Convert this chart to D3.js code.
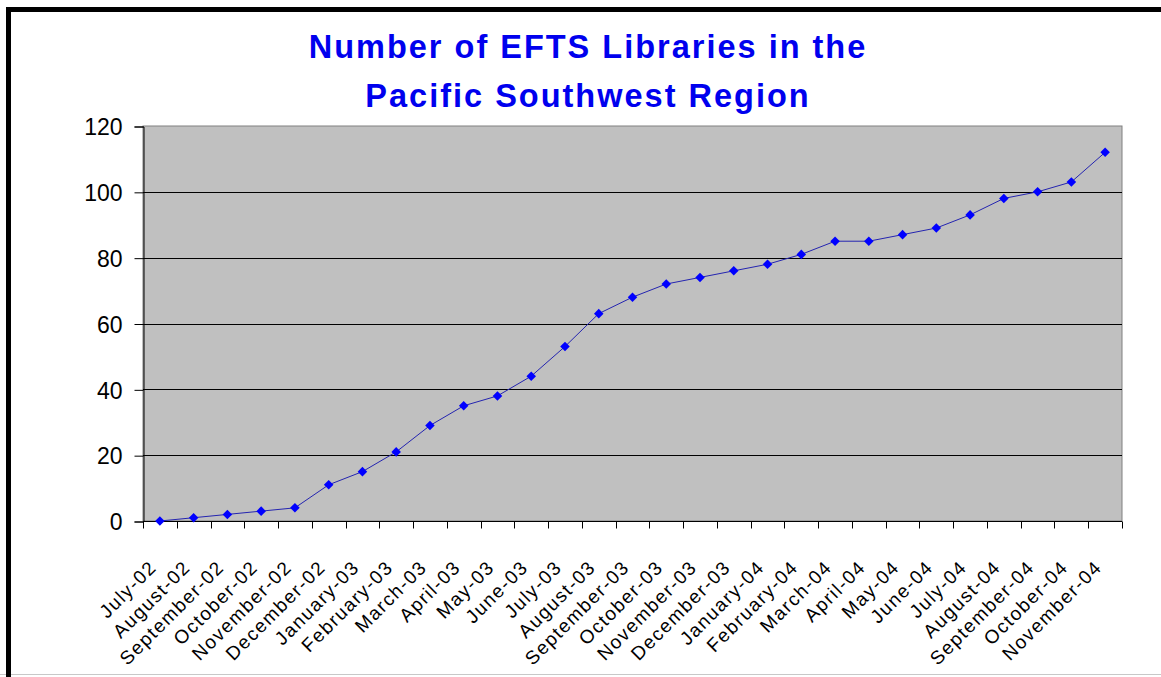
<!DOCTYPE html>
<html>
<head>
<meta charset="utf-8">
<script src="https://cdn.jsdelivr.net/npm/d3@7"></script>
<style>
  body { margin: 0; background: #fff; }
  text { font-family: "Liberation Sans", Arial, sans-serif; }
</style>
</head>
<body>
<div id="main-chart"></div>
<script>
// chart data
let months = ['July-02','August-02','September-02','October-02','November-02','December-02',
  'January-03','February-03','March-03','April-03','May-03','June-03','July-03','August-03',
  'September-03','October-03','November-03','December-03','January-04','February-04','March-04',
  'April-04','May-04','June-04','July-04','August-04','September-04','October-04','November-04'];
let libraries = [0,1,2,3,4,11,15,21,29,35,38,44,53,63,68,72,74,76,78,81,85,85,87,89,93,98,100,103,112];
let yTicks = [0,20,40,60,80,100,120];
let titleLines = ['Number of EFTS Libraries in the','Pacific Southwest Region'];

let W = 1161, H = 677;
let margin = {left:143, top:126, right:39, bottom:156},
    width = W - margin.left - margin.right,
    height = H - margin.top - margin.bottom;

let svg = d3.select('#main-chart')
  .append('svg')
  .attr('width', W)
  .attr('height', H);

// outer frame
svg.append('line').attr('x1',0).attr('x2',W).attr('y1',H-2.5).attr('y2',H-2.5)
   .attr('stroke','#c8c8c8').attr('stroke-width',1);
svg.append('line').attr('x1',6).attr('x2',W).attr('y1',9.5).attr('y2',9.5)
   .attr('stroke','#000').attr('stroke-width',5);
svg.append('line').attr('x1',8.5).attr('x2',8.5).attr('y1',7).attr('y2',H)
   .attr('stroke','#000').attr('stroke-width',5);

// title
svg.append('text')
   .attr('x', 588).attr('y', 58)
   .attr('text-anchor','middle')
   .style('font-size','32.5px').style('font-weight','bold').style('fill','#0000ee')
   .style('letter-spacing','2px')
   .selectAll('tspan').data(titleLines).join('tspan')
   .attr('x', 588).attr('dy', (d,i) => i ? 49 : 0)
   .text(d => d);

let g = svg.append('g').attr('transform', `translate(${margin.left},${margin.top})`);

let x = d3.scaleBand().domain(months).range([0, width]);
let y = d3.scaleLinear().domain([0, 120]).range([height, 0]);

// plot area
g.append('rect').attr('width', width).attr('height', height)
 .attr('fill','#c0c0c0').attr('stroke','#808080');

// gridlines
g.selectAll('.grid').data(yTicks.filter(d => d > 0 && d < 120)).join('line')
 .attr('x1',0).attr('x2',width)
 .attr('y1',d => Math.round(y(d))+0.5).attr('y2',d => Math.round(y(d))+0.5)
 .attr('stroke','#000');

// y axis
let yAxis = g.append('g')
  .attr('transform','translate(0.5,0.5)')
  .call(d3.axisLeft(y).tickValues(yTicks).tickSize(9).tickPadding(12));
yAxis.selectAll('text').style('font-size','23px').style('font-family','"Liberation Sans", Arial, sans-serif')
  .attr('fill','#000').attr('dy','0.36em');
yAxis.selectAll('line,path').attr('stroke','#000');

// x axis, ticks between categories
let xAxis = g.append('g').attr('transform',`translate(0,${height+0.5})`);
xAxis.append('line').attr('x1',0).attr('x2',width).attr('stroke','#000');
xAxis.selectAll('.tick').data(d3.range(months.length+1)).join('line')
  .attr('x1',i => Math.round(i*x.step())+0.5).attr('x2',i => Math.round(i*x.step())+0.5)
  .attr('y1',0).attr('y2',7).attr('stroke','#000');
xAxis.selectAll('text').data(months).join('text')
  .attr('transform',d => `translate(${x(d)+x.bandwidth()/2-2},${47}) rotate(-45)`)
  .attr('text-anchor','end')
  .style('font-size','19px')
  .style('letter-spacing','1.5px')
  .attr('fill','#000')
  .text(d => d);

// series line and markers
let line = d3.line().x((d,i) => x(months[i]) + x.bandwidth()/2).y(d => y(d));
g.append('path').datum(libraries)
 .attr('d', line).attr('fill','none').attr('stroke','#2424b0').attr('stroke-width',1);

g.selectAll('.pt').data(libraries).join('path')
 .attr('d', d3.symbol(d3.symbolDiamond2, 58))
 .attr('transform',(d,i) => `translate(${x(months[i]) + x.bandwidth()/2},${y(d)})`)
 .attr('fill','#0000ff');
</script>
</body>
</html>
